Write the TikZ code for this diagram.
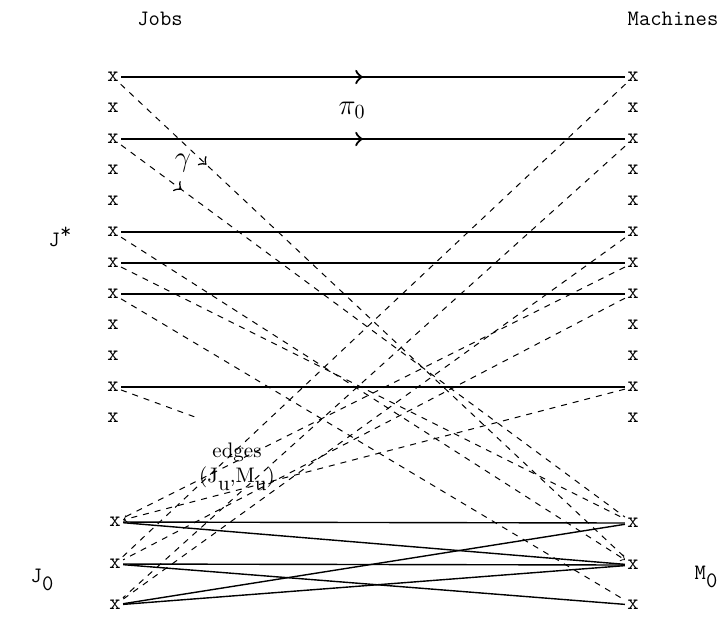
\documentclass[tikz,border=0pt]{standalone}
\usetikzlibrary{arrows,decorations.markings}

\begin{document}
\begin{tikzpicture}[x=0.5pt,y=-0.5pt,
        cross/.style={inner sep=1pt,font=\fontsize{11}{13}\selectfont\ttfamily},
        head/.style={inner sep=0pt,font=\fontsize{11}{13}\selectfont\ttfamily},
        matched/.style={line width=0.7pt},
        gam/.style={dashed,line width=0.5pt},
        flow/.style={postaction={decorate},decoration={markings,mark=at position #1 with {\arrow[scale=1.6]{>}}}}]
        \useasboundingbox (0,0) rectangle (726,618);

        % jobs
        \node [cross] (j1) at (113, 77) {x};
        \node [cross] (j2) at (113, 108) {x};
        \node [cross] (j3) at (113, 139) {x};
        \node [cross] (j4) at (113, 170) {x};
        \node [cross] (j5) at (113, 201) {x};
        \node [cross] (j6) at (113, 232) {x};
        \node [cross] (j7) at (113, 263) {x};
        \node [cross] (j8) at (113, 294) {x};
        \node [cross] (j9) at (113, 325) {x};
        \node [cross] (j10) at (113, 356) {x};
        \node [cross] (j11) at (113, 387) {x};
        \node [cross] (j12) at (113, 418) {x};
        \node [cross] (j13) at (115, 522) {x};
        \node [cross] (j14) at (115, 564) {x};
        \node [cross] (j15) at (115, 605) {x};

        % machines
        \node [cross] (m1) at (633, 77) {x};
        \node [cross] (m2) at (633, 108) {x};
        \node [cross] (m3) at (633, 139) {x};
        \node [cross] (m4) at (633, 170) {x};
        \node [cross] (m5) at (633, 201) {x};
        \node [cross] (m6) at (633, 232) {x};
        \node [cross] (m7) at (633, 263) {x};
        \node [cross] (m8) at (633, 294) {x};
        \node [cross] (m9) at (633, 325) {x};
        \node [cross] (m10) at (633, 356) {x};
        \node [cross] (m11) at (633, 387) {x};
        \node [cross] (m12) at (633, 418) {x};
        \node [cross] (m13) at (633, 523) {x};
        \node [cross] (m14) at (633, 565) {x};
        \node [cross] (m15) at (633, 605) {x};

        \node [head] (jobs) at (160, 19) {Jobs};
        \node [head] (machines) at (673, 19) {Machines};
        \node [head] (jstar) at (60, 237) {J\raisebox{0.9ex}{*}};
        \node [head] (jzero) at (42, 580) {J\raisebox{-0.9ex}{0}};
        \node [head] (mzero) at (706, 577) {M\raisebox{-0.9ex}{0}};
        \node [align=center,inner sep=0pt,font=\fontsize{10.5}{12.5}\selectfont] (edges) at (237, 467) {edges\\(J\raisebox{-0.9ex}{u},M\raisebox{-0.9ex}{u})};
        \node [inner sep=0pt,font=\Large] (pizero) at (352, 110) {$\pi_0$};
        \node [inner sep=0pt,font=\Large] (gamma) at (183, 163) {$\gamma$};
        \coordinate (stub) at (195, 417);

        \draw[matched,flow=0.48] (j1) -- (m1);
        \draw[matched,flow=0.48] (j3) -- (m3);
        \draw[matched] (j6) -- (m6);
        \draw[matched] (j7) -- (m7);
        \draw[matched] (j8) -- (m8);
        \draw[matched] (j11) -- (m11);
        \draw[matched] (j13) -- (m13);
        \draw[matched] (j13) -- (m14);
        \draw[matched] (j14) -- (m14);
        \draw[matched] (j14) -- (m15);
        \draw[matched] (j15) -- (m13);
        \draw[matched] (j15) -- (m14);

        \draw[gam,flow=0.17] (j1) -- (m14);
        \draw[gam,flow=0.12] (j3) -- (m13);
        \draw[gam,->] (j6) -- (m14);
        \draw[gam] (j7) -- (m13);
        \draw[gam] (j8) -- (m15);
        \draw[gam] (j11) -- (stub);
        \draw[gam] (m1) -- (j14);
        \draw[gam] (m3) -- (j15);
        \draw[gam] (m6) -- (j15);
        \draw[gam] (m7) -- (j13);
        \draw[gam] (m8) -- (j14);
        \draw[gam,->] (m11) -- (j13);
\end{tikzpicture}
\end{document}
